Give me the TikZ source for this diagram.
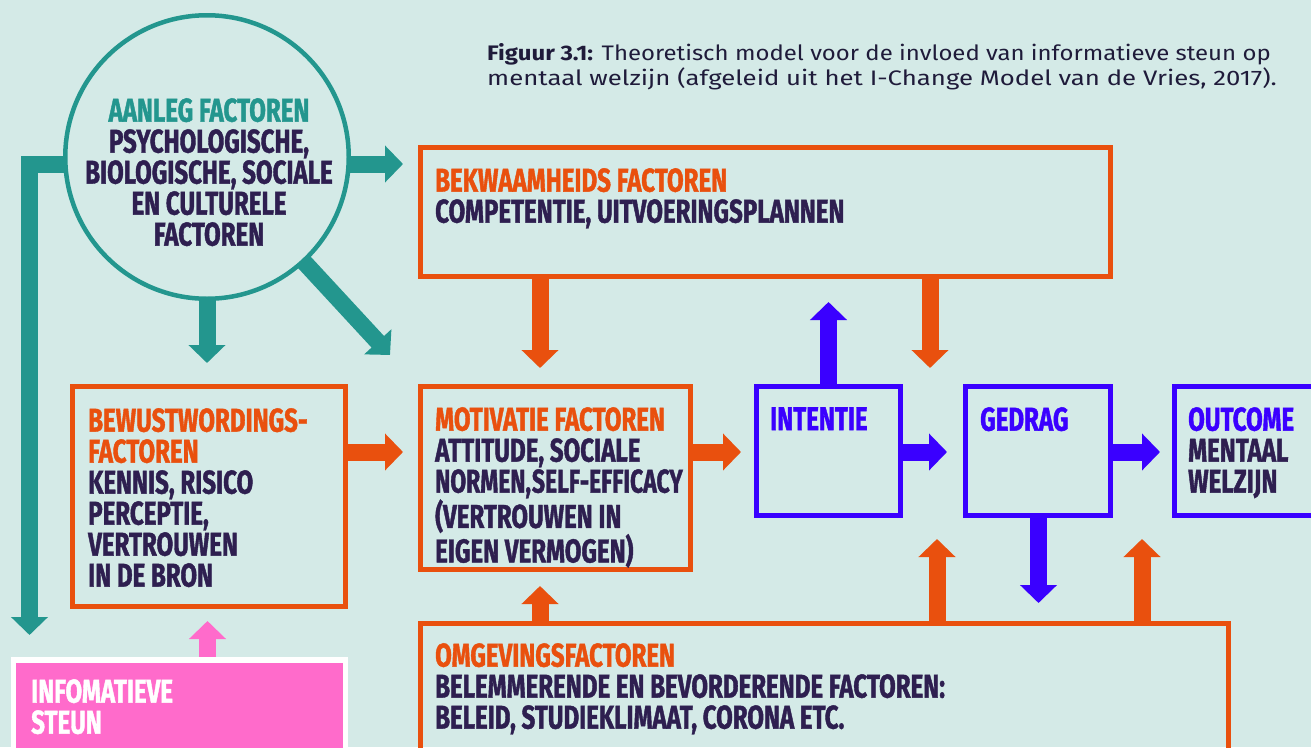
\documentclass[tikz,border=0pt]{standalone}
\usepackage{fontspec}
\usepackage{graphicx}
\usetikzlibrary{arrows.meta,calc}
\setmainfont{Fira Sans}
\newfontfamily\disp[FakeStretch=0.73,FakeBold=1.2]{Fira Sans}
\newfontfamily\capfont[FakeStretch=1.14]{Fira Sans}
\definecolor{cbg}{HTML}{D4EAE7}
\definecolor{cteal}{HTML}{23968E}
\definecolor{corange}{HTML}{E9500E}
\definecolor{cdark}{HTML}{2E1F50}
\definecolor{cblue}{HTML}{3A00FF}
\definecolor{cpink}{HTML}{FF6BCB}
\definecolor{ccap}{HTML}{1F1B3A}
\tikzset{
  boxnode/.style={rectangle, draw, line width=5pt, inner sep=0pt, outer sep=0pt, anchor=north west},
  obox/.style={boxnode, draw=corange},
  bbox/.style={boxnode, draw=cblue},
  txt/.style={inner sep=0pt, anchor=north west, align=left, text=cdark,
    font=\disp\bfseries\fontsize{33}{31}\selectfont},
  arr/.style={line width=17pt, line join=miter, -{Triangle[width=36pt,length=18pt]}},
  tarr/.style={arr, draw=cteal},
  oarr/.style={arr, draw=corange},
  barr/.style={arr, draw=cblue},
  parr/.style={arr, draw=cpink},
}
\begin{document}
\begin{tikzpicture}[x=1pt,y=-1pt]
\fill[cbg] (0,0) rectangle (1311,747);
\useasboundingbox (0,0) rectangle (1311,747);
\clip (0,0) rectangle (1311,747);

% caption
\node[inner sep=0pt, anchor=north west, align=left, text=ccap,
  font=\capfont\fontsize{21}{25}\selectfont] (cap) at (487,43)
  {\textbf{Figuur 3.1:} Theoretisch model voor de invloed van informatieve steun op\\
   \scalebox{1.075}[1]{mentaal welzijn (afgeleid uit het I-Change Model van de Vries, 2017).}};

% boxes
\node[obox, minimum width=690pt, minimum height=129pt] (bek) at (420.5,147.5) {};
\node[obox, minimum width=273pt, minimum height=220pt] (bew) at (72.5,386.5) {};
\node[obox, minimum width=270pt, minimum height=183pt] (mot) at (420.5,386.5) {};
\node[bbox, minimum width=144pt, minimum height=129pt] (int) at (756.5,386.5) {};
\node[bbox, minimum width=145pt, minimum height=129pt] (ged) at (965.5,386.5) {};
\node[bbox, minimum width=160pt, minimum height=129pt] (out) at (1174.5,386.5) {};
\node[obox, minimum width=808pt, minimum height=160pt] (omg) at (420.5,623.5) {};

% teal arrows from the circle
\coordinate (cc) at (207,157);
\coordinate (tbr) at (29.5,635);
\coordinate (trt) at (403,164);
\coordinate (tdn) at (207,363);
\coordinate (tdg) at (390,355);
\draw[tarr] ($(cc)+(0,7)$) -| (tbr);
\draw[tarr] ($(cc)+(0,7)$) -- (trt);
\draw[tarr] (cc) -- (tdn);
\draw[tarr] (cc) -- (tdg);
\node[circle, draw=cteal, line width=4.5pt, fill=cbg, minimum size=283.5pt, inner sep=0pt] (circ) at (cc) {};

% orange arrows
\draw[oarr] ($(bew.north east)+(0,65.5)$) -- ($(mot.north west)+(-17.5,65.5)$);
\draw[oarr] ($(mot.north east)+(0,65.5)$) -- ($(int.north west)+(-15.5,65.5)$);
\draw[oarr] ($(bek.south west)+(119.5,0)$) -- ($(mot.north west)+(119.5,-18.5)$);
\draw[oarr] ($(bek.south west)+(509.5,0)$) -- ($(int.north east)+(29.5,-18.5)$);
\draw[oarr] ($(omg.north west)+(119.5,0)$) -- ($(mot.south west)+(119.5,16.5)$);
\draw[oarr] ($(omg.north west)+(516.5,0)$) -- ($(int.south east)+(36.5,23.5)$);
\draw[oarr] ($(omg.north west)+(721.5,0)$) -- ($(ged.south east)+(31.5,23.5)$);

% blue arrows
\draw[barr] ($(int.north west)+(72,0)$) -- ($(int.north west)+(72,-84.5)$);
\draw[barr] ($(int.north east)+(0,65.5)$) -- ($(ged.north west)+(-18.5,65.5)$);
\draw[barr] ($(ged.north east)+(0,65.5)$) -- ($(out.north west)+(-14.5,65.5)$);
\draw[barr] ($(ged.south west)+(73,0)$) -- ($(ged.south west)+(73,87.5)$);

% pink
\coordinate (pkstart) at (207.5,660);
\draw[parr] (pkstart) -- ($(bew.south west)+(135,14.5)$);
\node[rectangle, draw=white, fill=cpink, line width=5.5pt, inner sep=0pt, outer sep=0pt, anchor=north west,
  minimum width=332pt, minimum height=100pt] (pink) at (13.5,660) {};

% texts
\node[txt, anchor=north, align=center] (circt) at ($(cc)+(2,-59)$)
  {{\color{cteal}AANLEG FACTOREN}\\PSYCHOLOGISCHE,\\BIOLOGISCHE, SOCIALE\\EN CULTURELE\\FACTOREN};
\node[txt] (bekt) at (435,168)
  {{\color{corange}BEKWAAMHEIDS FACTOREN}\\COMPETENTIE, UITVOERINGSPLANNEN};
\node[txt] (bewt) at (88,408)
  {{\color{corange}BEWUSTWORDINGS-}\\{\color{corange}FACTOREN}\\KENNIS, RISICO\\PERCEPTIE,\\VERTROUWEN\\IN DE BRON};
\node[txt] (mott) at (435,407)
  {{\color{corange}MOTIVATIE FACTOREN}\\ATTITUDE, SOCIALE\\\scalebox{0.95}[1]{NORMEN,\hspace{1pt}SELF-EFFICACY}\\(VERTROUWEN IN\\EIGEN VERMOGEN)};
\node[txt, text=cblue] (intt) at (770,407) {INTENTIE};
\node[txt, text=cblue] (gedt) at (980,407) {GEDRAG};
\node[txt] (outt) at (1188,407)
  {{\color{cblue}OUTCOME}\\MENTAAL\\WELZIJN};
\node[txt] (omgt) at (435,643)
  {{\color{corange}OMGEVINGSFACTOREN}\\BELEMMERENDE EN BEVORDERENDE FACTOREN:\\BELEID, STUDIEKLIMAAT, CORONA ETC.};
\node[txt, text=white] (pinkt) at (31,679) {INFOMATIEVE\\STEUN};
\end{tikzpicture}
\end{document}
